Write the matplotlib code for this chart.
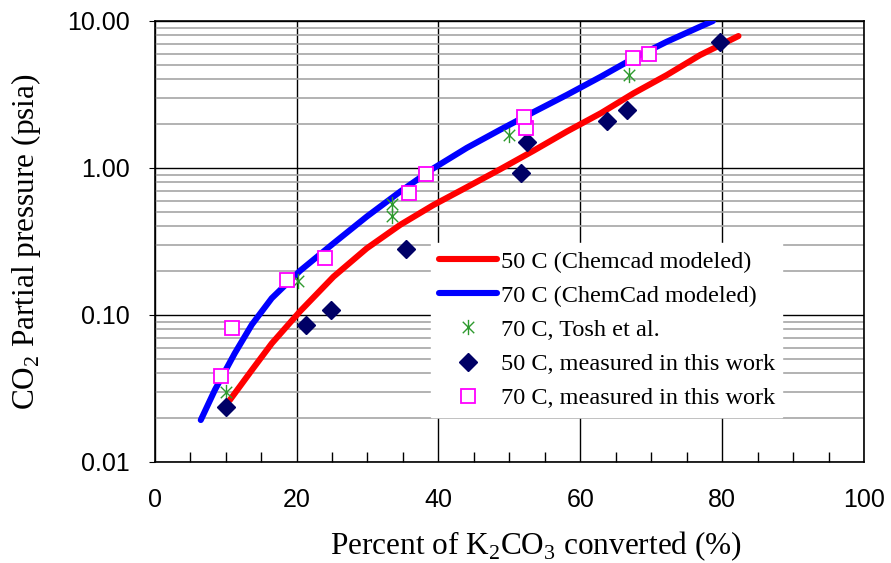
import matplotlib
matplotlib.use('Agg')
import matplotlib.pyplot as plt
from matplotlib.path import Path
from matplotlib.ticker import FixedLocator, FormatStrFormatter, MultipleLocator, NullFormatter, LogLocator

plt.rcParams['mathtext.fontset'] = 'custom'
plt.rcParams['mathtext.rm'] = 'Liberation Serif'

# ChemCad model curves
x_50_model = [10.6, 13.7, 16.5, 20.5, 25.2, 29.9, 34.6, 39.3, 44.0, 48.7, 53.4,
              58.1, 62.9, 67.5, 72.2, 76.9, 82.3]
p_50_model = [0.0264, 0.0422, 0.064, 0.106, 0.182, 0.284, 0.41, 0.56, 0.74, 0.98, 1.31,
              1.77, 2.36, 3.22, 4.29, 5.87, 7.9]

x_70_model = [6.5, 8.5, 11.3, 13.7, 16.5, 20.5, 25.2, 29.9, 34.6, 39.3, 44.0, 48.7,
              53.4, 58.1, 62.9, 67.5, 72.2, 76.9, 78.7]
p_70_model = [0.0193, 0.031, 0.055, 0.086, 0.130, 0.200, 0.307, 0.467, 0.69, 0.995, 1.37, 1.82,
              2.40, 3.14, 4.18, 5.57, 7.23, 9.15, 10.0]

# measured points
x_tosh = [10.05, 20.2, 33.5, 33.5, 49.9, 66.9]
p_tosh = [0.030, 0.171, 0.57, 0.47, 1.68, 4.27]

x_50_meas = [10.05, 21.4, 24.9, 35.5, 51.6, 52.5, 63.7, 66.6, 79.7]
p_50_meas = [0.0238, 0.0855, 0.108, 0.28, 0.93, 1.51, 2.1, 2.49, 7.2]

x_70_meas = [9.35, 10.85, 18.6, 24.0, 35.9, 38.2, 52.3, 52.1, 67.4, 69.7]
p_70_meas = [0.0386, 0.082, 0.173, 0.243, 0.68, 0.91, 1.86, 2.23, 5.57, 5.94]

x_ticks = [0, 20, 40, 60, 80, 100]
y_ticks = [0.01, 0.1, 1, 10]

# excel style asterisk: an X with a vertical bar
star = Path([(0, -1), (0, 1), (-0.75, -0.75), (0.75, 0.75), (-0.75, 0.75), (0.75, -0.75)],
            [Path.MOVETO, Path.LINETO] * 3)

fig = plt.figure(figsize=(8.91, 5.63), dpi=100)
ax = fig.add_axes([0.1736, 0.1794, 0.7961, 0.7833])

ax.set_yscale('log')
ax.set_xlim(0, 100)
ax.set_ylim(0.01, 10)

ax.plot(x_50_model, p_50_model, color='#ff0000', lw=4.4, solid_capstyle='round',
        solid_joinstyle='round', label='50 C (Chemcad modeled)', zorder=3)
ax.plot(x_70_model, p_70_model, color='#0000ff', lw=4.4, solid_capstyle='round',
        solid_joinstyle='round', label='70 C (ChemCad modeled)', zorder=3)
ax.plot(x_tosh, p_tosh, ls='none', marker=star, ms=11, mew=1.0, color='#2e9a2e',
        label='70 C, Tosh et al.', zorder=4)
ax.plot(x_50_meas, p_50_meas, ls='none', marker='D', ms=9, color='#000066',
        mec='#000066', label='50 C, measured in this work', zorder=4)
ax.plot(x_70_meas, p_70_meas, ls='none', marker='s', ms=10, mfc='white', mec='#ff00ff',
        mew=1.3, label='70 C, measured in this work', zorder=5)

# ticks and grid
ax.xaxis.set_major_locator(FixedLocator(x_ticks))
ax.xaxis.set_minor_locator(MultipleLocator(5))
ax.yaxis.set_major_locator(FixedLocator(y_ticks))
ax.yaxis.set_minor_locator(LogLocator(base=10, subs=range(2, 10)))
ax.yaxis.set_major_formatter(FormatStrFormatter('%.2f'))
ax.yaxis.set_minor_formatter(NullFormatter())

ax.grid(True, which='major', color='black', lw=1.0, zorder=1)
ax.grid(True, which='minor', axis='y', color='#a6a6a6', lw=1.2, zorder=1)
ax.set_axisbelow(True)

ax.tick_params(axis='x', which='major', length=0, pad=19, labelsize=18)
ax.tick_params(axis='x', which='minor', direction='in', length=7, width=1, color='black')
ax.tick_params(axis='y', which='major', length=4, pad=14, labelsize=18)
ax.tick_params(axis='y', which='minor', length=0)
for lab in ax.get_xticklabels() + ax.get_yticklabels():
    lab.set_fontfamily('Liberation Sans')

for s in ax.spines.values():
    s.set_color('black')
    s.set_linewidth(1.2)

ax.set_xlabel(r'Percent of K$_\mathregular{2}$CO$_\mathregular{3}$ converted (%)',
              fontfamily='Liberation Serif', fontsize=22.5)
ax.xaxis.set_label_coords(0.5376, -0.152)
ax.set_ylabel(r'CO$_\mathregular{2}$ Partial pressure (psia)',
              fontfamily='Liberation Serif', fontsize=22.5)
ax.yaxis.set_label_coords(-0.158, 0.5)

leg = ax.legend(loc='upper left', bbox_to_anchor=(0.39, 0.496), borderaxespad=0,
                prop={'family': 'Liberation Serif', 'size': 17.5}, frameon=True,
                fancybox=False, edgecolor='white', framealpha=1, facecolor='white',
                handlelength=2.4, handletextpad=0.15, labelspacing=0.5, borderpad=0.3)
leg.set_zorder(10)

fig.savefig('out.png', dpi=100)
